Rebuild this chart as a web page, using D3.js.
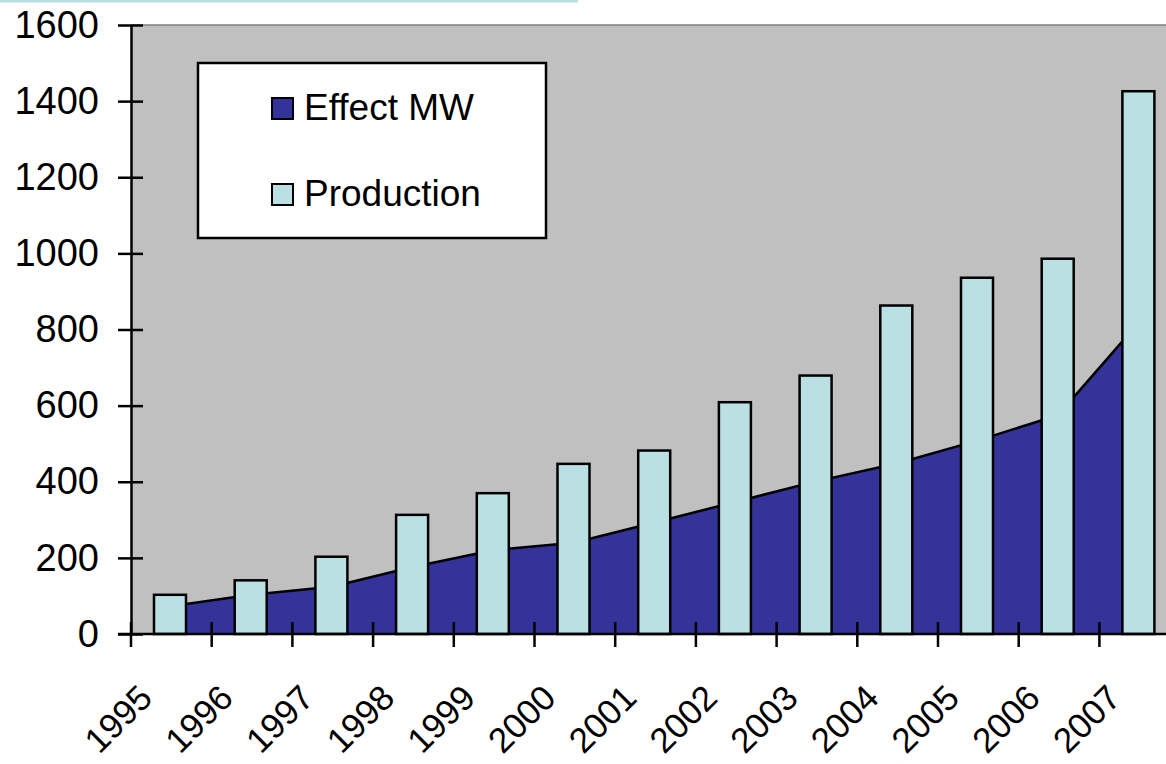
<!DOCTYPE html>
<html>
<head>
<meta charset="utf-8">
<script src="https://cdn.jsdelivr.net/npm/d3@7"></script>
<style>
  html, body { margin: 0; padding: 0; background: #fff; overflow: hidden; }
  svg { display: block; font-family: Arial, "Liberation Sans", sans-serif; }
</style>
</head>
<body>
<svg id="chart"></svg>
<script>
const width = 1166;
const height = 764;

// data
const years = ["1995", "1996", "1997", "1998", "1999", "2000", "2001",
               "2002", "2003", "2004", "2005", "2006", "2007"];
const effectMW = [73, 103, 124, 176, 220, 240, 293, 347, 401, 448, 508, 575, 818];
const production = [103, 141, 203, 313, 370, 447, 482, 609, 679, 863, 936, 986, 1426];
const yTicks = [0, 200, 400, 600, 800, 1000, 1200, 1400, 1600];
const seriesNames = ["Effect MW", "Production"];

const areaColor = "#333399";
const barColor = "#bbe0e3";

const plotLeft = 131;
const step = 80.7;
const plotTop = 25;
const plotBottom = 634;

const svg = d3.select("#chart")
  .attr("width", width)
  .attr("height", height);

const x = d3.scaleBand()
  .domain(years)
  .range([plotLeft, plotLeft + step * years.length])
  .padding(0);

const y = d3.scaleLinear()
  .domain([0, 1600])
  .range([plotBottom, plotTop]);

// thin cyan strip at the very top
svg.append("rect")
  .attr("x", 0).attr("y", 0)
  .attr("width", 578).attr("height", 2.5)
  .attr("fill", "#b8e0e4");

// plot background
svg.append("rect")
  .attr("x", plotLeft)
  .attr("y", plotTop)
  .attr("width", step * years.length)
  .attr("height", plotBottom - plotTop)
  .attr("fill", "#c0c0c0");
svg.append("line")
  .attr("x1", plotLeft).attr("x2", plotLeft + step * years.length)
  .attr("y1", plotTop).attr("y2", plotTop)
  .attr("stroke", "#808080").attr("stroke-width", 1.5);

const cx = (d, i) => x(years[i]) + x.bandwidth() / 2 - 1;

// Effect MW area
svg.append("path")
  .datum(effectMW)
  .attr("d", d3.area()
    .x(cx)
    .y0(y(0))
    .y1(d => y(d)))
  .attr("fill", areaColor);

svg.append("path")
  .datum(effectMW)
  .attr("d", d3.line()
    .x(cx)
    .y(d => y(d)))
  .attr("fill", "none")
  .attr("stroke", "#000")
  .attr("stroke-width", 2.5);

// Production bars
svg.append("g")
  .selectAll("rect")
  .data(production)
  .enter().append("rect")
    .attr("x", (d, i) => x(years[i]) + 23)
    .attr("y", d => y(d))
    .attr("width", 32)
    .attr("height", d => y(0) - y(d))
    .attr("fill", barColor)
    .attr("stroke", "#000")
    .attr("stroke-width", 2.5);

// y axis
const yAxis = svg.append("g")
  .attr("transform", `translate(${plotLeft},0)`)
  .call(d3.axisLeft(y)
    .tickValues(yTicks)
    .tickFormat(d3.format("d"))
    .tickSizeInner(13)
    .tickSizeOuter(0)
    .tickPadding(19));
yAxis.select(".domain").attr("stroke", "#000").attr("stroke-width", 2.5);
yAxis.selectAll(".tick line")
  .attr("x1", 12).attr("x2", -13)
  .attr("stroke", "#000").attr("stroke-width", 2.5);
yAxis.selectAll(".tick text")
  .attr("font-size", 38)
  .attr("font-family", "Arial, 'Liberation Sans', sans-serif")
  .attr("fill", "#000");

// x axis
const xAxis = svg.append("g");
xAxis.append("line")
  .attr("x1", plotLeft - 13).attr("x2", plotLeft + step * years.length)
  .attr("y1", plotBottom).attr("y2", plotBottom)
  .attr("stroke", "#000").attr("stroke-width", 2.5);
xAxis.selectAll("line.tick")
  .data(years)
  .enter().append("line")
    .attr("class", "tick")
    .attr("x1", d => x(d)).attr("x2", d => x(d))
    .attr("y1", plotBottom - 12).attr("y2", plotBottom + 13)
    .attr("stroke", "#000").attr("stroke-width", 2.5);
xAxis.selectAll("text")
  .data(years)
  .enter().append("text")
    .attr("transform", d => `translate(${x(d) + x.bandwidth() / 2 - 17},700) rotate(-45)`)
    .attr("text-anchor", "end")
    .attr("font-size", 35)
    .attr("fill", "#000")
    .text(d => d);

// legend
const legend = svg.append("g");
legend.append("rect")
  .attr("x", 198).attr("y", 63)
  .attr("width", 348).attr("height", 175)
  .attr("fill", "#fff")
  .attr("stroke", "#000")
  .attr("stroke-width", 2.5);

const legendItems = legend.selectAll("g.item")
  .data(seriesNames)
  .enter().append("g")
    .attr("class", "item")
    .attr("transform", (d, i) => `translate(0,${i * 86})`);
legendItems.append("rect")
  .attr("x", 272).attr("y", 98)
  .attr("width", 21).attr("height", 21)
  .attr("fill", (d, i) => i === 0 ? areaColor : barColor)
  .attr("stroke", "#000")
  .attr("stroke-width", 2);
legendItems.append("text")
  .attr("x", 304).attr("y", 120)
  .attr("font-size", 37)
  .attr("fill", "#000")
  .text(d => d);
</script>
</body>
</html>
